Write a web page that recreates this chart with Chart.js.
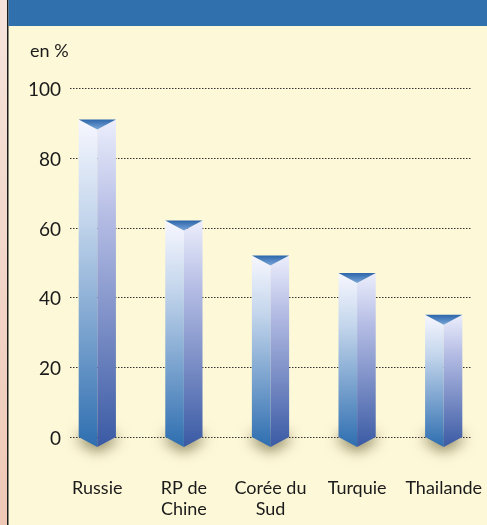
<!DOCTYPE html>
<html>
<head>
<meta charset="utf-8">
<script src="https://cdn.jsdelivr.net/npm/chart.js@4"></script>
<style>
  body { margin: 0; background: #fdf8d8; }
  canvas { display: block; }
</style>
</head>
<body>
<canvas id="grafico" width="487" height="525"></canvas>
<script>
const categories = [['Russie'], ['RP de', 'Chine'], ['Corée du', 'Sud'], ['Turquie'], ['Thailande']];
const values = [91, 62, 52, 47, 35];
const yTicks = [0, 20, 40, 60, 80, 100];
const unitLabel = 'en %';

// fond : bande rose, filet noir, bandeau bleu, panneau crème
const fond = {
    id: 'fond',
    beforeDraw(chart) {
        const c = chart.ctx;
        c.save();
        const g = c.createLinearGradient(0, 0, 0, 525);
        g.addColorStop(0, '#f6e4dc');
        g.addColorStop(1, '#efc8b6');
        c.fillStyle = g;
        c.fillRect(0, 0, 7, 525);
        c.fillStyle = '#fdf8d8';
        c.fillRect(8, 0, 479, 525);
        c.fillStyle = '#1c1c1c';
        c.fillRect(7, 0, 1.5, 525);
        c.fillStyle = '#3070ac';
        c.fillRect(8.5, 0, 479, 26);
        c.fillStyle = '#1a1a1a';
        c.font = '18px Lato';
        c.textAlign = 'left';
        c.textBaseline = 'alphabetic';
        c.fillText(unitLabel, 30, 57);
        c.restore();
    }
};

// lignes pointillées + graduations
const grille = {
    id: 'grille',
    beforeDatasetsDraw(chart) {
        const c = chart.ctx, y = chart.scales.y;
        c.save();
        c.strokeStyle = '#333';
        c.lineWidth = 1;
        c.setLineDash([1.5, 1.5]);
        c.fillStyle = '#1a1a1a';
        c.font = '19px Lato';
        c.textAlign = 'right';
        c.textBaseline = 'middle';
        yTicks.forEach(v => {
            const py = Math.round(y.getPixelForValue(v)) + 0.5;
            c.beginPath();
            c.moveTo(70, py);
            c.lineTo(471, py);
            c.stroke();
            c.fillText(String(v), 61, py + 1);
        });
        c.restore();
    }
};

// barres en prisme
const prisme = {
    id: 'prisme',
    afterDatasetsDraw(chart) {
        const c = chart.ctx;
        const meta = chart.getDatasetMeta(0);
        meta.data.forEach(bar => {
            const x0 = bar.x - bar.width / 2, x1 = bar.x + bar.width / 2, xc = bar.x;
            const top = bar.y, base = bar.base, d = 10;

            // ombre seule (forme dessinée hors du canvas)
            const off = 1000;
            c.save();
            c.shadowColor = 'rgba(70,60,20,0.6)';
            c.shadowBlur = 14;
            c.shadowOffsetX = off;
            c.shadowOffsetY = 5;
            c.fillStyle = '#000';
            c.beginPath();
            c.moveTo(x0 - off, base - 8);
            c.lineTo(x1 - off, base - 8);
            c.lineTo(x1 - off, base);
            c.lineTo(xc - off, base + d);
            c.lineTo(x0 - off, base);
            c.closePath();
            c.fill();
            c.restore();

            c.save();
            const gl = c.createLinearGradient(0, top, 0, base + d);
            gl.addColorStop(0, '#f7f7ff');
            gl.addColorStop(0.3, '#c4d6ec');
            gl.addColorStop(1, '#2e6eb0');
            c.fillStyle = gl;
            c.beginPath();
            c.moveTo(x0, top);
            c.lineTo(xc, top + d);
            c.lineTo(xc, base + d);
            c.lineTo(x0, base);
            c.closePath();
            c.fill();

            const gr = c.createLinearGradient(0, top, 0, base + d);
            gr.addColorStop(0, '#eceefc');
            gr.addColorStop(0.3, '#b4bce4');
            gr.addColorStop(1, '#3a5aa4');
            c.fillStyle = gr;
            c.beginPath();
            c.moveTo(xc, top + d);
            c.lineTo(x1, top);
            c.lineTo(x1, base);
            c.lineTo(xc, base + d);
            c.closePath();
            c.fill();

            const gt = c.createLinearGradient(0, top, 0, top + d);
            gt.addColorStop(0, '#2c66aa');
            gt.addColorStop(1, '#7aa6da');
            c.fillStyle = gt;
            c.beginPath();
            c.moveTo(x0, top);
            c.lineTo(x1, top);
            c.lineTo(xc, top + d);
            c.closePath();
            c.fill();
            c.restore();
        });
    }
};

new Chart(document.getElementById('grafico'), {
    type: 'bar',
    data: {
        labels: categories,
        datasets: [{
            data: values,
            backgroundColor: 'rgba(0,0,0,0)',
            borderWidth: 0,
            barPercentage: 0.43,
            categoryPercentage: 1
        }]
    },
    options: {
        responsive: false,
        animation: false,
        layout: { padding: { top: 88, left: 0, right: 0, bottom: 0 } },
        plugins: { legend: { display: false }, tooltip: { enabled: false } },
        scales: {
            x: {
                grid: { display: false, drawTicks: false },
                border: { display: false },
                ticks: {
                    color: '#1a1a1a',
                    font: { family: 'Lato', size: 18 },
                    padding: 40,
                    maxRotation: 0,
                    autoSkip: false
                },
                afterFit(scale) {
                    scale.height = 88;
                    scale.paddingLeft = 0;
                    scale.paddingRight = 0;
                }
            },
            y: {
                min: 0,
                max: 100,
                afterBuildTicks(scale) { scale.ticks = yTicks.map(v => ({ value: v })); },
                grid: { display: false, drawTicks: false },
                border: { display: false },
                ticks: { display: false },
                afterFit(scale) { scale.width = 54; }
            }
        }
    },
    plugins: [fond, grille, prisme]
});
</script>
</body>
</html>
